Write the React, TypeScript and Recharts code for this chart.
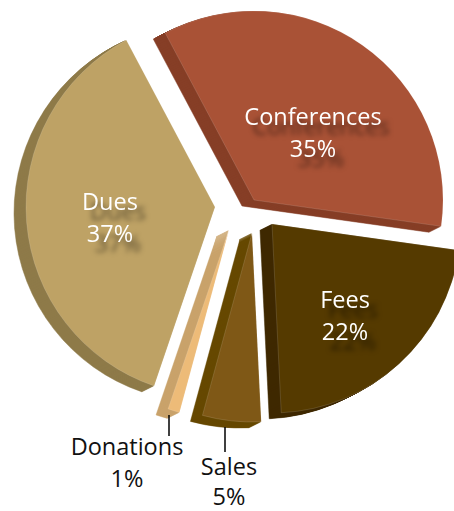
import { PieChart, Pie, Sector } from 'recharts';

const sliceNames = ['Conferences', 'Fees', 'Sales', 'Donations', 'Dues'];
const sliceValues = [35, 22, 5, 1, 37];

const faceColors = ['#A95236', '#553A00', '#7F5816', '#EDBB78', '#BEA265'];
const sideColors = ['#863E26', '#3F2900', '#664800', '#C9A26B', '#8E7A49'];

// where each slice's tip sits once pulled out of the pie
const sliceTips = [
  [254, 200],
  [272, 224],
  [252, 233],
  [229, 230],
  [215, 207],
];
const labelSpots = [
  [313, 125],
  [345, 308],
  [229, 475],
  [127, 455],
  [110, 210],
];
// leader line x, y1, y2 for the two small slices
const leaders: Record<string, number[]> = {
  Sales: [225, 427, 452],
  Donations: [169, 415, 436],
};
const lineGaps = [31.5, 31.5, 29.5, 31.5, 31.5];

const CX = 240;
const CY = 215;
const RADIUS = 189;
const DEPTH = 12;

const chartData = sliceNames.map((name, i) => ({
  name,
  value: sliceValues[i],
  fill: faceColors[i],
}));

function ExplodedSlice(props: any) {
  const i = sliceNames.indexOf(props.name);
  const [tipX, tipY] = sliceTips[i];
  const base = {
    innerRadius: 0,
    outerRadius: RADIUS,
    startAngle: props.startAngle,
    endAngle: props.endAngle,
  };
  const steps = Array.from({ length: DEPTH }, (_, k) => DEPTH - k);
  return (
    <g>
      {steps.map((s) => (
        <Sector
          key={s}
          {...base}
          cx={tipX - s}
          cy={tipY + s * 0.5}
          fill={sideColors[i]}
          stroke={sideColors[i]}
          strokeWidth={0.5}
        />
      ))}
      <Sector
        {...base}
        cx={tipX}
        cy={tipY}
        fill={faceColors[i]}
        stroke="rgba(255,255,255,0.22)"
        strokeWidth={0.6}
      />
    </g>
  );
}

function SliceLabel(props: any) {
  const i = sliceNames.indexOf(props.name);
  const [x, y] = labelSpots[i];
  const leader = leaders[props.name];
  const outside = !!leader;
  return (
    <g>
      {leader && <line x1={leader[0]} x2={leader[0]} y1={leader[1]} y2={leader[2]} stroke="#000" strokeWidth={1.5} />}
      <text
        x={x}
        y={y}
        textAnchor="middle"
        fontFamily="'Open Sans', sans-serif"
        fontSize={23.5}
        fill={outside ? '#111' : '#fff'}
        style={outside ? undefined : { filter: 'drop-shadow(8px 10px 2.5px rgba(0,0,0,0.5))' }}
      >
        <tspan x={x}>{props.name}</tspan>
        <tspan x={x} dy={lineGaps[i]}>{props.value}%</tspan>
      </text>
    </g>
  );
}

export default function App() {
  return (
    <div style={{ position: 'absolute', left: 0, top: 0, width: 454, height: 511, overflow: 'hidden' }}>
      <PieChart width={454} height={511} margin={{ top: 0, right: 0, bottom: 0, left: 0 }}>
        <Pie
          data={chartData}
          dataKey="value"
          nameKey="name"
          cx={CX}
          cy={CY}
          outerRadius={RADIUS}
          startAngle={118}
          endAngle={-242}
          stroke="none"
          shape={ExplodedSlice}
          label={SliceLabel}
          labelLine={false}
          isAnimationActive={false}
        />
      </PieChart>
    </div>
  );
}
